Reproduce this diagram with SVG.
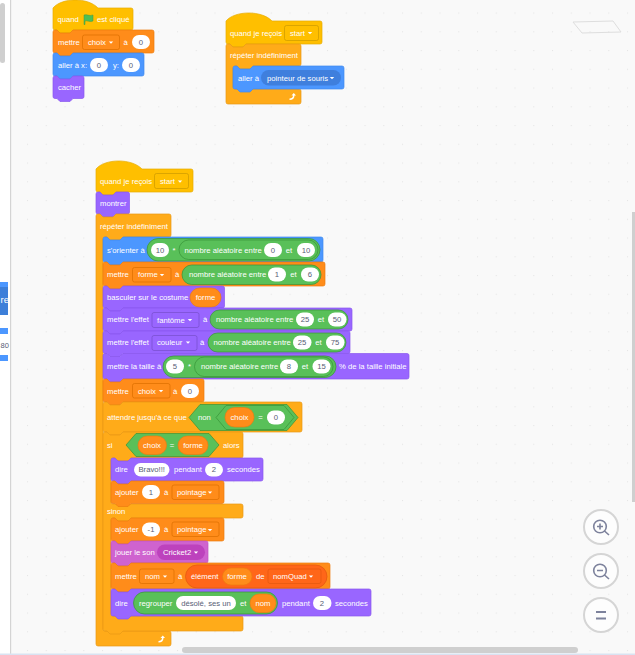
<svg xmlns="http://www.w3.org/2000/svg" xmlns:xlink="http://www.w3.org/1999/xlink" width="635" height="655" viewBox="0 0 635 655">
<style>
text{font-family:"Liberation Sans",Arial,sans-serif;font-size:7.7px;fill:#fff;dominant-baseline:central}
.d{fill:#575e75;text-anchor:middle}
.c{text-anchor:middle}
.w{fill:#fff}
.ev{fill:#ffbf00;stroke:#e6ac00;stroke-width:.7}
.ct{fill:#ffab19;stroke:#e89a15;stroke-width:.7}
.mo{fill:#4c97ff;stroke:#3f89ee;stroke-width:.7}
.lo{fill:#9966ff;stroke:#8a58ee;stroke-width:.7}
.da{fill:#ff8c1a;stroke:#ec7c10;stroke-width:.7}
.so{fill:#cf63cf;stroke:#c052c0;stroke-width:.7}
.op{fill:#59c059;stroke:#389438;stroke-width:.7}
.ddv{fill:#ff8c1a;stroke:#db6e00;stroke-width:.7}
.dde{fill:#ffbf00;stroke:#cc9900;stroke-width:.7}
.ddl{fill:#9966ff;stroke:#774dcb;stroke-width:.7}
.btn{fill:#fdfdfd;stroke:#d5d5d5;stroke-width:2}
.ic{fill:none;stroke:#7d829c;stroke-width:1.6}
</style>
<defs>
<pattern id="grid" x="8.25" y="12.5" width="18.75" height="18.75" patternUnits="userSpaceOnUse"><circle cx="0.6" cy="0.6" r="0.6" fill="#e2e2e2"/></pattern>
<path id="dd" d="M-2.2,-1 H2.2 L0,1.2 Z" fill="#fff"/>
<path id="loop" d="M-3.5,2.500 C-1.500,2.500 0,1.500 0,-.5 H-1.500 L.8,-3 L3,-.5 H1.500 C1.500,2.500 -.5,4 -3.500,4 Z" fill="#fff"/>
</defs>
<rect width="635" height="655" fill="#f9f9f9"/>
<rect width="635" height="655" fill="url(#grid)"/>
<g id="left-panel">
<rect x="0" y="0" width="10" height="655" fill="#fff"/>
<rect x="10" y="0" width="1.2" height="655" fill="#d4d4d4"/>
<rect x="0" y="3" width="5" height="60" rx="2.500" fill="#cfcfcf"/>
<rect x="0" y="282" width="8" height="5" fill="#4c97ff"/>
<rect x="0" y="287" width="8" height="28" fill="#3d7fd9"/>
<rect x="0" y="328" width="8" height="6" fill="#4c97ff"/>
<rect x="0" y="355" width="8" height="6" fill="#4c97ff"/>
<text x="0.500" y="299" style="font-size:9.500px">re</text>
<text x="0.500" y="345" style="font-size:7.500px;fill:#575e75">80</text>
</g>
<g id="script1">
<g id="s1-flag"><path class="ev" d="M53,8 C62,-2.700 88,-2.700 98,8 H131 q2,0 2,2 V28 q0,2 -2,2 H73 l-3,3 h-10 l-3,-3 H55 q-2,0 -2,-2 Z"/>
<text x="57.500" y="19.500">quand</text>
<path d="M84,15 C87,14 89,16.500 93,15 V21 C89,22.500 87,20 85,21 V24.500 H84 Z" fill="#4cbf56" stroke="#45993d" stroke-width=".5"/>
<text x="97" y="19.500">est cliqué</text></g>
<g id="s1-set"><path class="da" d="M53,32 q0,-2 2,-2 h2 l3,3 h10 l3,-3 H152 q2,0 2,2 V51 q0,2 -2,2 H73 l-3,3 h-10 l-3,-3 H55 q-2,0 -2,-2 Z"/>
<text x="58" y="42.500">mettre</text>
<rect class="ddv" x="82.500" y="35" width="37" height="14.500" rx="2"/><text x="88" y="42.500">choix</text><use href="#dd" x="111" y="42.500"/>
<text x="123.500" y="42.500">à</text><rect class="w" x="132" y="35" width="18" height="14" rx="7"/><text class="d" x="141" y="42.500">0</text></g>
<g id="s1-goto"><path class="mo" d="M53,55 q0,-2 2,-2 h2 l3,3 h10 l3,-3 H142 q2,0 2,2 V74 q0,2 -2,2 H73 l-3,3 h-10 l-3,-3 H55 q-2,0 -2,-2 Z"/>
<text x="58" y="65">aller à x:</text><rect class="w" x="90" y="58" width="18" height="14" rx="7"/><text class="d" x="99" y="65">0</text>
<text x="113" y="65">y:</text><rect class="w" x="122" y="58" width="18" height="14" rx="7"/><text class="d" x="131" y="65">0</text></g>
<g id="s1-hide"><path class="lo" d="M53,78 q0,-2 2,-2 h2 l3,3 h10 l3,-3 H82 q2,0 2,2 V96.500 q0,2 -2,2 H73 l-3,3 h-10 l-3,-3 H55 q-2,0 -2,-2 Z"/>
<text x="58" y="87.500">cacher</text></g>
</g>
<g id="script2">
<g id="s2-hat"><path class="ev" d="M226,21 C235,10.300 262,10.300 272,21 H320 q2,0 2,2 V42 q0,2 -2,2 H246 l-3,3 h-10 l-3,-3 H228 q-2,0 -2,-2 Z"/>
<text x="230" y="33">quand je reçois</text>
<rect class="dde" x="284.500" y="25.500" width="34" height="15" rx="2"/><text x="290" y="33">start</text><use href="#dd" x="310" y="33"/></g>
<g id="s2-forever"><path class="ct" d="M226,46 q0,-2 2,-2 h2 l3,3 h10 l3,-3 H299 q2,0 2,2 V64 q0,2 -2,2 H253 l-3,3 h-10 l-3,-3 H235 q-2,0 -2,2 V87 q0,2 2,2 H299 q2,0 2,2 V102 q0,2 -2,2 H228 q-2,0 -2,-2 Z"/>
<text x="230" y="55">répéter indéfiniment</text><use href="#loop" x="293" y="96"/></g>
<g id="s2-goto"><path class="mo" d="M233,68 q0,-2 2,-2 h2 l3,3 h10 l3,-3 H342 q2,0 2,2 V87 q0,2 -2,2 H253 l-3,3 h-10 l-3,-3 H235 q-2,0 -2,-2 Z"/>
<text x="238" y="78">aller à</text><rect x="261" y="70" width="80" height="15.500" rx="7.700" fill="#3f7fdd"/><text x="267" y="78">pointeur de souris</text><use href="#dd" x="332" y="78"/></g>
</g>
<polygon id="stage-outline" points="573,22 613,21 621,32 582,33" fill="none" stroke="#dedede" stroke-width="1"/>
<g id="script3">
<g id="s3-hat"><path class="ev" d="M96,169 C105,158.300 132,158.300 142,169 H191 q2,0 2,2 V190 q0,2 -2,2 H116 l-3,3 h-10 l-3,-3 H98 q-2,0 -2,-2 Z"/>
<text x="100" y="181.500">quand je reçois</text>
<rect class="dde" x="154.500" y="173.500" width="34" height="15" rx="2"/><text x="160" y="181.500">start</text><use href="#dd" x="180" y="181.500"/></g>
<g id="s3-show"><path class="lo" d="M96,194 q0,-2 2,-2 h2 l3,3 h10 l3,-3 H127.500 q2,0 2,2 V212 q0,2 -2,2 H116 l-3,3 h-10 l-3,-3 H98 q-2,0 -2,-2 Z"/>
<text x="100" y="203">montrer</text></g>
<g id="s3-forever"><path class="ct" d="M96,216 q0,-2 2,-2 h2 l3,3 h10 l3,-3 H169 q2,0 2,2 V235 q0,2 -2,2 H123 l-3,3 h-10 l-3,-3 H105 q-2,0 -2,2 V629 q0,2 2,2 H169 q2,0 2,2 V644 q0,2 -2,2 H98 q-2,0 -2,-2 Z"/>
<text x="100" y="226">répéter indéfiniment</text><use href="#loop" x="162" y="638.500"/></g>
<g id="s3-point"><path class="mo" d="M103,239 q0,-2 2,-2 h2 l3,3 h10 l3,-3 H321 q2,0 2,2 V260 q0,2 -2,2 H123 l-3,3 h-10 l-3,-3 H105 q-2,0 -2,-2 Z"/>
<text x="107" y="250">s'orienter à</text>
<rect class="op" x="147" y="238.500" width="173" height="22.500" rx="11.200"/>
<rect class="w" x="151" y="243" width="18" height="14" rx="7"/><text class="d" x="160" y="250">10</text><text class="c" x="174" y="250">*</text>
<rect class="op" x="179" y="240" width="139" height="19.500" rx="9.700"/>
<text x="184.500" y="250">nombre aléatoire entre</text>
<rect class="w" x="264" y="243" width="18" height="14" rx="7"/><text class="d" x="273" y="250">0</text><text class="c" x="289" y="250">et</text>
<rect class="w" x="297" y="243" width="18" height="14" rx="7"/><text class="d" x="306" y="250">10</text></g>
<g id="s3-setforme"><path class="da" d="M103,264 q0,-2 2,-2 h2 l3,3 h10 l3,-3 H323 q2,0 2,2 V284 q0,2 -2,2 H123 l-3,3 h-10 l-3,-3 H105 q-2,0 -2,-2 Z"/>
<text x="107" y="274.500">mettre</text>
<rect class="ddv" x="132.500" y="267.500" width="38.500" height="14.500" rx="2"/><text x="138" y="274.500">forme</text><use href="#dd" x="162" y="275"/><text x="175" y="274.500">à</text>
<rect class="op" x="182" y="265" width="139" height="19.500" rx="9.700"/>
<text x="189" y="274.500">nombre aléatoire entre</text>
<rect class="w" x="268" y="267.500" width="18" height="14" rx="7"/><text class="d" x="277" y="274.500">1</text><text class="c" x="293.500" y="274.500">et</text>
<rect class="w" x="301" y="267.500" width="18" height="14" rx="7"/><text class="d" x="310" y="274.500">6</text></g>
<g id="s3-costume"><path class="lo" d="M103,288 q0,-2 2,-2 h2 l3,3 h10 l3,-3 H222.500 q2,0 2,2 V306 q0,2 -2,2 H123 l-3,3 h-10 l-3,-3 H105 q-2,0 -2,-2 Z"/>
<text x="107" y="297.500">basculer sur le costume</text>
<rect class="da" x="190" y="288" width="31" height="19" rx="9.500"/><text class="c" x="205.500" y="297.500">forme</text></g>
<g id="s3-ghost"><path class="lo" d="M103,310 q0,-2 2,-2 h2 l3,3 h10 l3,-3 H350 q2,0 2,2 V329 q0,2 -2,2 H123 l-3,3 h-10 l-3,-3 H105 q-2,0 -2,-2 Z"/>
<text x="107" y="319.500">mettre l'effet</text>
<rect class="ddl" x="152" y="312.500" width="47" height="15" rx="2"/><text x="157" y="320">fantôme</text><use href="#dd" x="190" y="320"/><text x="203" y="319.500">à</text>
<rect class="op" x="210" y="310" width="138" height="19" rx="9.500"/>
<text x="216" y="319.500">nombre aléatoire entre</text>
<rect class="w" x="296" y="312.500" width="18" height="14" rx="7"/><text class="d" x="305" y="319.500">25</text><text class="c" x="321" y="319.500">et</text>
<rect class="w" x="328" y="312.500" width="18.500" height="14" rx="7"/><text class="d" x="337" y="319.500">50</text></g>
<g id="s3-color"><path class="lo" d="M103,333 q0,-2 2,-2 h2 l3,3 h10 l3,-3 H348 q2,0 2,2 V351.500 q0,2 -2,2 H123 l-3,3 h-10 l-3,-3 H105 q-2,0 -2,-2 Z"/>
<text x="107" y="342.500">mettre l'effet</text>
<rect class="ddl" x="152" y="335.500" width="45" height="15" rx="2"/><text x="157" y="342.500">couleur</text><use href="#dd" x="188" y="342.500"/><text x="200" y="342.500">à</text>
<rect class="op" x="208" y="333" width="138" height="19" rx="9.500"/>
<text x="213.500" y="342.500">nombre aléatoire entre</text>
<rect class="w" x="293" y="335.500" width="18.500" height="14" rx="7"/><text class="d" x="302" y="342.500">25</text><text class="c" x="318.500" y="342.500">et</text>
<rect class="w" x="326" y="335.500" width="18.500" height="14" rx="7"/><text class="d" x="335" y="342.500">75</text></g>
<g id="s3-size"><path class="lo" d="M103,355.500 q0,-2 2,-2 h2 l3,3 h10 l3,-3 H407 q2,0 2,2 V377 q0,2 -2,2 H123 l-3,3 h-10 l-3,-3 H105 q-2,0 -2,-2 Z"/>
<text x="107" y="366.500">mettre la taille à</text>
<rect class="op" x="163" y="356" width="173" height="21.500" rx="10.700"/>
<rect class="w" x="166" y="359.500" width="18" height="14" rx="7"/><text class="d" x="175" y="366.500">5</text><text class="c" x="189.500" y="366.500">*</text>
<rect class="op" x="194.500" y="357" width="138.500" height="19.500" rx="9.700"/>
<text x="201" y="366.500">nombre aléatoire entre</text>
<rect class="w" x="280" y="359.500" width="18" height="14" rx="7"/><text class="d" x="289" y="366.500">8</text><text class="c" x="305" y="366.500">et</text>
<rect class="w" x="312.500" y="359.500" width="18" height="14" rx="7"/><text class="d" x="321.500" y="366.500">15</text>
<text x="339" y="366.500">% de la taille initiale</text></g>
<g id="s3-setchoix"><path class="da" d="M103,381 q0,-2 2,-2 h2 l3,3 h10 l3,-3 H202 q2,0 2,2 V400 q0,2 -2,2 H123 l-3,3 h-10 l-3,-3 H105 q-2,0 -2,-2 Z"/>
<text x="107" y="391">mettre</text>
<rect class="ddv" x="132.500" y="383.500" width="37.500" height="14.500" rx="2"/><text x="138" y="391">choix</text><use href="#dd" x="161" y="391"/><text x="173" y="391">à</text>
<rect class="w" x="181" y="384" width="18" height="14" rx="7"/><text class="d" x="190" y="391">0</text></g>
<g id="s3-wait"><path class="ct" d="M103,404 q0,-2 2,-2 h2 l3,3 h10 l3,-3 H300 q2,0 2,2 V430 q0,2 -2,2 H123 l-3,3 h-10 l-3,-3 H105 q-2,0 -2,-2 Z"/>
<text x="107" y="417.500">attendre jusqu'à ce que</text>
<path class="op" d="M189,417.500 L200,404.500 H287 L298,417.500 L287,430.500 H200 Z"/>
<text x="198" y="417.500">non</text>
<path class="op" d="M216,417.500 L226,405.500 H284 L294,417.500 L284,429.500 H226 Z"/>
<rect class="da" x="225" y="407.500" width="29" height="19.500" rx="9.700"/><text class="c" x="239.500" y="417.500">choix</text>
<text class="c" x="260.500" y="417.500">=</text>
<rect class="w" x="267" y="410.500" width="18" height="14" rx="7"/><text class="d" x="276" y="417.500">0</text></g>
<g id="s3-if"><path class="ct" d="M103,434 q0,-2 2,-2 h2 l3,3 h10 l3,-3 H241 q2,0 2,2 V456 q0,2 -2,2 H131 l-3,3 h-10 l-3,-3 H113 q-2,0 -2,2 V502 q0,2 2,2 H241 q2,0 2,2 V516 q0,2 -2,2 H131 l-3,3 h-10 l-3,-3 H113 q-2,0 -2,2 V614 q0,2 2,2 H241 q2,0 2,2 V629 q0,2 -2,2 H123 l-3,3 h-10 l-3,-3 H105 q-2,0 -2,-2 Z"/>
<text x="107" y="445">si</text>
<path class="op" d="M126,445 L136,433.500 H209 L219,445 L209,456.500 H136 Z"/>
<rect class="da" x="138" y="436" width="28.500" height="18.500" rx="9.200"/><text class="c" x="152" y="445">choix</text>
<text class="c" x="172" y="445">=</text>
<rect class="da" x="178" y="436" width="30" height="18.500" rx="9.200"/><text class="c" x="193" y="445">forme</text>
<text x="223" y="445">alors</text>
<text x="107" y="511.500">sinon</text></g>
<g id="s3-say"><path class="lo" d="M111,460 q0,-2 2,-2 h2 l3,3 h10 l3,-3 H261 q2,0 2,2 V479 q0,2 -2,2 H131 l-3,3 h-10 l-3,-3 H113 q-2,0 -2,-2 Z"/>
<text x="115" y="469.500">dire</text>
<rect class="w" x="134" y="463" width="35.500" height="13.500" rx="6.700"/><text class="d" x="151.700" y="469.500">Bravo!!!</text>
<text x="174" y="469.500">pendant</text>
<rect class="w" x="205" y="463" width="18" height="13.500" rx="6.700"/><text class="d" x="214" y="469.500">2</text>
<text x="227" y="469.500">secondes</text></g>
<g id="s3-add1"><path class="da" d="M111,483 q0,-2 2,-2 h2 l3,3 h10 l3,-3 H222 q2,0 2,2 V501.500 q0,2 -2,2 H131 l-3,3 h-10 l-3,-3 H113 q-2,0 -2,-2 Z"/>
<text x="115" y="492">ajouter</text>
<rect class="w" x="142" y="485" width="18" height="14" rx="7"/><text class="d" x="151" y="492">1</text><text x="164" y="492">à</text>
<rect class="ddv" x="172" y="485" width="47" height="14.500" rx="2"/><text x="177" y="492">pointage</text><use href="#dd" x="210" y="492.500"/></g>
<g id="s3-addm1"><path class="da" d="M111,520 q0,-2 2,-2 h2 l3,3 h10 l3,-3 H222 q2,0 2,2 V539 q0,2 -2,2 H131 l-3,3 h-10 l-3,-3 H113 q-2,0 -2,-2 Z"/>
<text x="115" y="529.500">ajouter</text>
<rect class="w" x="142" y="522.500" width="18" height="14" rx="7"/><text class="d" x="151" y="529.500">-1</text><text x="164" y="529.500">à</text>
<rect class="ddv" x="172" y="522" width="47" height="14.500" rx="2"/><text x="177" y="529.500">pointage</text><use href="#dd" x="210" y="530"/></g>
<g id="s3-sound"><path class="so" d="M111,543 q0,-2 2,-2 h2 l3,3 h10 l3,-3 H206 q2,0 2,2 V561 q0,2 -2,2 H131 l-3,3 h-10 l-3,-3 H113 q-2,0 -2,-2 Z"/>
<text x="115" y="552">jouer le son</text>
<rect x="157" y="544.500" width="48" height="15.500" rx="7.700" fill="#bd42bd"/><text x="163" y="552">Cricket2</text><use href="#dd" x="196" y="552.500"/></g>
<g id="s3-setnom"><path class="da" d="M111,565 q0,-2 2,-2 h2 l3,3 h10 l3,-3 H328 q2,0 2,2 V587 q0,2 -2,2 H131 l-3,3 h-10 l-3,-3 H113 q-2,0 -2,-2 Z"/>
<text x="115" y="576">mettre</text>
<rect class="ddv" x="139.500" y="569" width="34.500" height="14.500" rx="2"/><text x="145" y="576">nom</text><use href="#dd" x="165" y="576.500"/><text x="178" y="576">à</text>
<rect x="185.500" y="565" width="141.500" height="23" rx="11.500" fill="#ff6619" stroke="#e2570f" stroke-width=".7"/>
<text x="191" y="576">élément</text>
<rect class="da" x="222.500" y="568" width="29.500" height="17" rx="8.500"/><text class="c" x="237" y="576">forme</text>
<text x="256" y="576">de</text>
<rect x="268" y="569" width="53" height="14.500" rx="2" fill="#ff6619" stroke="#e2570f" stroke-width=".7"/><text x="273" y="576">nomQuad</text><use href="#dd" x="311" y="576.500"/></g>
<g id="s3-saysorry"><path class="lo" d="M111,591 q0,-2 2,-2 h2 l3,3 h10 l3,-3 H369 q2,0 2,2 V614 q0,2 -2,2 H131 l-3,3 h-10 l-3,-3 H113 q-2,0 -2,-2 Z"/>
<text x="115" y="603">dire</text>
<rect class="op" x="133.500" y="592" width="144" height="22" rx="11"/>
<text x="139" y="603">regrouper</text>
<rect class="w" x="176" y="596" width="60" height="14" rx="7"/><text class="d" x="206" y="603">désolé, ses un</text>
<text x="240" y="603">et</text>
<rect class="da" x="250" y="594" width="26" height="18.500" rx="9.200"/><text class="c" x="263" y="603">nom</text>
<text x="282" y="603">pendant</text>
<rect class="w" x="313" y="596" width="18.500" height="14" rx="7"/><text class="d" x="322" y="603">2</text>
<text x="335" y="603">secondes</text></g>
</g>
<g id="zoom-in"><circle class="btn" cx="601" cy="527" r="17"/><circle class="ic" cx="600" cy="526.500" r="6.300"/><path class="ic" d="M604.500,531 L609,535 M597,526.500 H603 M600,523.500 V529.500"/></g>
<g id="zoom-out"><circle class="btn" cx="601" cy="571" r="17"/><circle class="ic" cx="600" cy="570.500" r="6.300"/><path class="ic" d="M604.500,575 L609,579 M597,570.500 H603"/></g>
<g id="zoom-reset"><circle class="btn" cx="601" cy="615" r="17"/><path d="M596,612 H606 M596,618.500 H606" fill="none" stroke="#7d829c" stroke-width="2"/></g>
<g id="scrollbars">
<rect x="632" y="212" width="3" height="290" fill="#cfcfcf"/>
<rect x="182" y="647" width="396" height="6" rx="3" fill="#cfcfcf"/>
<rect x="0" y="653.500" width="635" height="1.500" fill="#d9e3f2"/>
</g>
</svg>
